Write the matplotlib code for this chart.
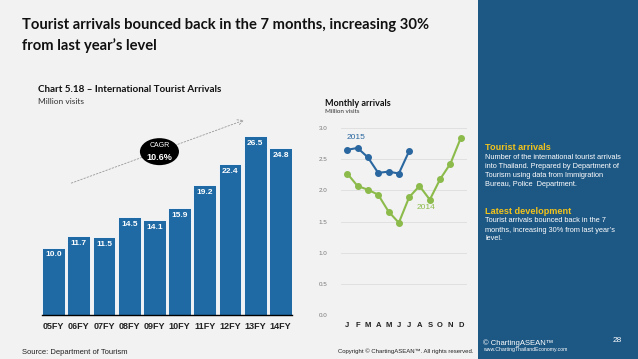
import matplotlib.pyplot as plt
from matplotlib.patches import Ellipse, Rectangle

# data
years = ['05FY', '06FY', '07FY', '08FY', '09FY', '10FY', '11FY', '12FY', '13FY', '14FY']
arrivals = [10.0, 11.7, 11.5, 14.5, 14.1, 15.9, 19.2, 22.4, 26.5, 24.8]

months = ['J', 'F', 'M', 'A', 'M', 'J', 'J', 'A', 'S', 'O', 'N', 'D']
m2014 = [2.27, 2.07, 2.01, 1.93, 1.66, 1.48, 1.89, 2.07, 1.85, 2.18, 2.43, 2.84]
m2015 = [2.65, 2.68, 2.53, 2.28, 2.30, 2.27, 2.63]

W, H = 638, 359
BG = '#f2f2f2'
BAR = '#1f6aa5'
BLUE15 = '#2a67a0'
GREEN14 = '#8cbb4b'
SIDE = '#1d5784'
TITLE_FONT = ['Lato', 'DejaVu Sans']
BODY_FONT = ['Liberation Sans', 'DejaVu Sans']


def fx(x):
    return x / W


def fy(y):
    return 1 - y / H


def ax_rect(x0, y0, x1, y1):
    # pixel box (top-left origin) -> figure rect
    return [fx(x0), fy(y1), fx(x1) - fx(x0), fy(y0) - fy(y1)]


fig = plt.figure(figsize=(W / 100, H / 100), dpi=100, facecolor=BG)

# side panel
fig.patches.append(Rectangle((fx(478), 0), 1 - fx(478), 1, transform=fig.transFigure,
                             facecolor=SIDE, edgecolor='none', zorder=0))

# titles
fig.text(fx(22), fy(25), "Tourist arrivals bounced back in the 7 months, increasing 30%",
         fontsize=10.6, fontweight='bold', family=TITLE_FONT, va='center', color='#111111')
fig.text(fx(22), fy(46), "from last year\u2019s level",
         fontsize=10.6, fontweight='bold', family=TITLE_FONT, va='center', color='#111111')
fig.text(fx(38), fy(90), "Chart 5.18 \u2013 International Tourist Arrivals",
         fontsize=7.1, fontweight='bold', family=TITLE_FONT, va='center', color='#111111')
fig.text(fx(38), fy(102), "Million visits", fontsize=6, family=TITLE_FONT, va='center', color='#333333')

# ---- bar chart ----
ax = fig.add_axes(ax_rect(42, 110, 292, 315))
ax.set_facecolor('none')
x = list(range(len(years)))
ax.bar(x, arrivals, width=0.91, color=BAR, edgecolor='white', linewidth=0.6, zorder=2)
for xi, v in zip(x, arrivals):
    ax.text(xi, v - 1.1, f'{v:.1f}', ha='center', va='center', color='white',
            fontsize=6, fontweight='bold', family=BODY_FONT, zorder=3)
ax.set_xlim(-0.46, 9.46)
ax.set_ylim(0, 205 / 6.75)
ax.set_yticks([])
ax.set_xticks(x)
ax.set_xticklabels(years, fontsize=6.5, fontweight='bold', family=BODY_FONT, color='#222222')
ax.tick_params(axis='x', length=0, pad=5)
for s in ['top', 'right', 'left']:
    ax.spines[s].set_visible(False)
ax.spines['bottom'].set_color('black')
ax.spines['bottom'].set_linewidth(1.0)

# CAGR arrow + bubble
ax.annotate('', xy=(7.66, 29.0), xytext=(0.6, 19.4),
            arrowprops=dict(arrowstyle='->', linestyle=(0, (2, 2)), color='#999999', lw=0.6),
            annotation_clip=False, zorder=1)
ax.add_patch(Ellipse((4.2, 24.2), 1.55, 27 / 6.75, facecolor='black', edgecolor='none',
                     zorder=4, clip_on=False))
ax.text(4.2, 25.1, 'CAGR', ha='center', va='center', color='white', fontsize=5,
        family=BODY_FONT, zorder=5)
ax.text(4.2, 23.4, '10.6%', ha='center', va='center', color='white', fontsize=6.5,
        fontweight='bold', family=BODY_FONT, zorder=5)

# ---- monthly line chart ----
fig.text(fx(325), fy(103), "Monthly arrivals", fontsize=6.5, fontweight='bold',
         family=TITLE_FONT, va='center', color='#111111')
fig.text(fx(325), fy(112), "Million visits", fontsize=4.5, family=TITLE_FONT,
         va='center', color='#333333')

ax2 = fig.add_axes(ax_rect(341, 126, 467, 315))
ax2.set_facecolor('none')
mx = list(range(len(months)))
ax2.plot(mx, m2014, color=GREEN14, marker='o', markersize=4, linewidth=1.5, zorder=3)
ax2.plot(mx[:len(m2015)], m2015, color=BLUE15, marker='o', markersize=4, linewidth=1.5, zorder=4)
ax2.text(0.87, 2.84, '2015', color=BLUE15, fontsize=6, family=BODY_FONT, ha='center', va='center')
ax2.text(7.6, 1.72, '2014', color=GREEN14, fontsize=6, family=BODY_FONT, ha='center', va='center')
ax2.set_xlim(-0.6, 11.6)
ax2.set_ylim(0, 3.0 * 189 / 187)
ax2.set_yticks([0, 0.5, 1.0, 1.5, 2.0, 2.5, 3.0])
ax2.set_yticklabels(['0.0', '0.5', '1.0', '1.5', '2.0', '2.5', '3.0'],
                    fontsize=4.5, family=BODY_FONT, color='#777777')
ax2.set_xticks(mx)
ax2.set_xticklabels(months, fontsize=5.5, fontweight='bold', family=BODY_FONT, color='#222222')
ax2.tick_params(axis='both', length=0)
ax2.tick_params(axis='y', pad=10)
ax2.tick_params(axis='x', pad=5)
ax2.grid(axis='y', color='#dddddd', linewidth=0.6)
ax2.set_axisbelow(True)
for s in ax2.spines.values():
    s.set_visible(False)

# ---- side panel text ----
fig.text(fx(485), fy(147.5), "Tourist arrivals", fontsize=6.6, fontweight='bold',
         family=BODY_FONT, color='#f2c31b', va='center')
side1 = ["Number of the international tourist arrivals",
         "into Thailand. Prepared by Department of",
         "Tourism using data from Immigration",
         "Bureau, Police  Department."]
for i, line in enumerate(side1):
    fig.text(fx(485), fy(157.7 + 8.8 * i), line, fontsize=5.3, family=BODY_FONT,
             color='white', va='center')
fig.text(fx(485), fy(211.7), "Latest development", fontsize=6.6, fontweight='bold',
         family=BODY_FONT, color='#f2c31b', va='center')
side2 = ["Tourist arrivals bounced back in the 7",
         "months, increasing 30% from last year\u2019s",
         "level."]
for i, line in enumerate(side2):
    fig.text(fx(485), fy(221 + 9 * i), line, fontsize=5.3, family=BODY_FONT,
             color='white', va='center')

# ---- footer ----
fig.text(fx(22), fy(352), "Source: Department of Tourism", fontsize=5.5,
         family=BODY_FONT, color='#222222', va='center')
fig.text(fx(473), fy(350.7), "Copyright \u00a9 ChartingASEAN\u2122. All rights reserved.",
         fontsize=4.3, family=BODY_FONT, color='#222222', va='center', ha='right')
fig.text(fx(483), fy(343), "\u00a9 ChartingASEAN\u2122", fontsize=5.5,
         family=BODY_FONT, color='white', va='center')
fig.text(fx(483), fy(349.5), "www.ChartingThailandEconomy.com", fontsize=3.7,
         family=BODY_FONT, color='white', va='center')
fig.text(fx(617), fy(341), "28", fontsize=6, family=BODY_FONT, color='white',
         va='center', ha='center')

fig.savefig('out.png', dpi=100, facecolor=BG)
